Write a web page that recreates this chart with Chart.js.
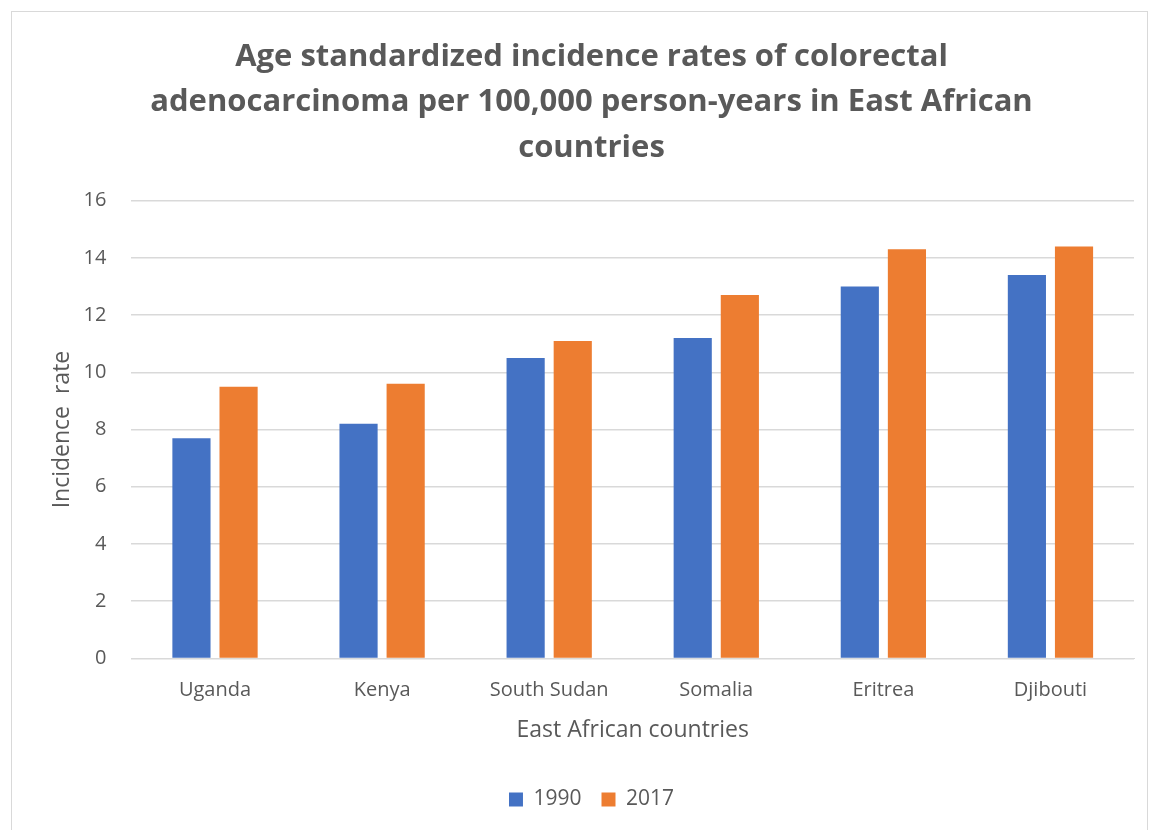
<!DOCTYPE html>
<html>
<head>
<meta charset="utf-8">
<script src="https://cdn.jsdelivr.net/npm/chart.js@4.4.1/dist/chart.umd.min.js"></script>
<style>
  body { margin: 0; background: #fff; overflow: hidden; }
  #box { position: absolute; left: 11px; top: 11px; width: 1137px; height: 830px; border: 1px solid #d9d9d9; box-sizing: border-box; }
</style>
</head>
<body>
<div id="box"><canvas id="myBar"></canvas></div>
<script>
var countries = ['Uganda', 'Kenya', 'South Sudan', 'Somalia', 'Eritrea', 'Djibouti'];
var rates1990 = [7.7, 8.2, 10.5, 11.2, 13.0, 13.4];
var rates2017 = [9.5, 9.6, 11.1, 12.7, 14.3, 14.4];
var yMax = 16;
var yStep = 2;

var txt = '#595959';
var fam = '"Open Sans", "Noto Sans", sans-serif';

var ctx = document.getElementById('myBar').getContext('2d');
var myChart = new Chart(ctx, {
    type: 'bar',
    data: {
        labels: countries,
        datasets: [
        {
            label: '1990',
            data: rates1990,
            backgroundColor: '#4472c4',
            borderWidth: 0,
            categoryPercentage: 0.564,
            barPercentage: 0.81
        },
        {
            label: '2017',
            data: rates2017,
            backgroundColor: '#ed7d31',
            borderWidth: 0,
            categoryPercentage: 0.564,
            barPercentage: 0.81
        }
        ]
    },
    options: {
        responsive: true,
        maintainAspectRatio: false,
        animation: false,
        layout: { padding: { left: 37, right: 13, top: 22, bottom: 20 } },
        plugins: {
            title: {
                display: true,
                text: ['Age standardized incidence rates of colorectal',
                       'adenocarcinoma per 100,000 person-years in East African',
                       'countries'],
                color: txt,
                font: { family: fam, size: 31, weight: 'bold', lineHeight: 1.47 },
                padding: { top: 0, bottom: 30 }
            },
            legend: {
                display: true,
                position: 'bottom',
                labels: {
                    color: txt,
                    font: { family: fam, size: 21 },
                    boxWidth: 14,
                    boxHeight: 14,
                    padding: 20
                }
            },
            tooltip: { enabled: false }
        },
        scales: {
            x: {
                grid: { display: false },
                border: { color: '#d9d9d9' },
                ticks: { color: txt, font: { family: fam, size: 20 }, padding: 12 },
                title: {
                    display: true,
                    text: 'East African countries',
                    color: txt,
                    font: { family: fam, size: 23 },
                    padding: { top: 2, bottom: 25 }
                }
            },
            y: {
                min: 0,
                max: yMax,
                grid: { color: '#d9d9d9', lineWidth: 1.5, drawTicks: false },
                border: { display: false },
                ticks: { stepSize: yStep, color: txt, font: { family: fam, size: 20 }, padding: 25 },
                title: {
                    display: true,
                    text: 'Incidence  rate',
                    color: txt,
                    font: { family: fam, size: 23 },
                    padding: { top: 0, bottom: -18 }
                }
            }
        }
    }
});
</script>
</body>
</html>
